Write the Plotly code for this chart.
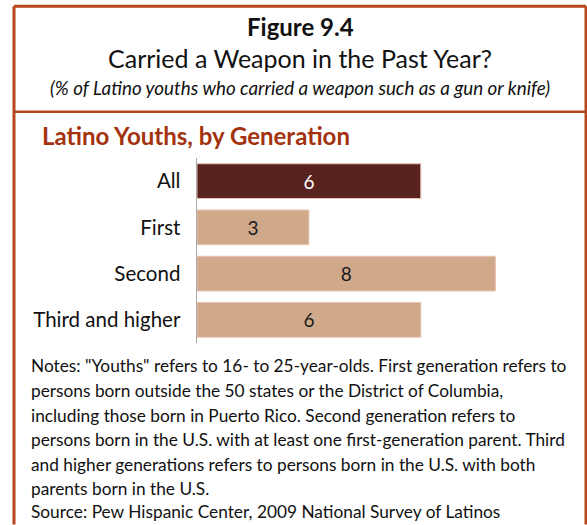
import plotly.graph_objects as go

categories = ["All", "First", "Second", "Third and higher"]
values = [6, 3, 8, 6]
bar_colors = ["#58221e", "#cfa98a", "#cfa98a", "#cfa98a"]
label_colors = ["white", "#1a1a1a", "#1a1a1a", "#1a1a1a"]

title_main = "Figure 9.4"
title_sub = "Carried a Weapon in the Past Year?"
title_note = "(% of Latino youths who carried a weapon such as a gun or knife)"
panel_title = "Latino Youths, by Generation"
notes_lines = [
    "Notes: \"Youths\" refers to 16- to 25-year-olds. First generation refers to",
    "persons born outside the 50 states or the District of Columbia,",
    "including those born in Puerto Rico. Second generation refers to",
    "persons born in the U.S. with at least one first-generation parent. Third",
    "and higher generations refers to persons born in the U.S. with both",
    "parents born in the U.S.",
    "Source: Pew Hispanic Center, 2009 National Survey of Latinos",
]

W, H = 587, 525
L, R, T, B = 197, 570, 157.5, 343.5
FONT = "Lato, 'Open Sans', sans-serif"

def px(x):
    return (x - L) / (R - L)

def py(y):
    return (B - y) / (B - T)

fig = go.Figure(go.Bar(
    y=categories, x=values, orientation="h",
    marker=dict(color=bar_colors, line=dict(color="#e9c3b3", width=1)),
    text=[str(v) for v in values], textposition="inside",
    insidetextanchor="middle",
    textfont=dict(family=FONT, size=19, color=label_colors),
    hoverinfo="skip",
))

border = "#b8461c"
shapes = [
    dict(type="line", xref="paper", yref="paper", x0=px(14), x1=px(14), y0=py(5), y1=py(526), line=dict(color=border, width=3)),
    dict(type="line", xref="paper", yref="paper", x0=px(14), x1=px(586), y0=py(5), y1=py(5), line=dict(color=border, width=3)),
    dict(type="line", xref="paper", yref="paper", x0=px(586), x1=px(586), y0=py(5), y1=py(526), line=dict(color=border, width=3)),
    dict(type="line", xref="paper", yref="paper", x0=px(14), x1=px(586), y0=py(111), y1=py(111), line=dict(color=border, width=2.5)),
]

annotations = [
    dict(text="<b>" + title_main + "</b>", x=px(300), y=py(25), xref="paper", yref="paper", showarrow=False,
         font=dict(family=FONT, size=24, color="#111"), xanchor="center", yanchor="middle"),
    dict(text=title_sub, x=px(300), y=py(57), xref="paper", yref="paper", showarrow=False,
         font=dict(family=FONT, size=25, color="#111"), xanchor="center", yanchor="middle"),
    dict(text="<i>" + title_note + "</i>", x=px(300), y=py(87), xref="paper", yref="paper", showarrow=False,
         font=dict(family=FONT, size=18.8, color="#111"), xanchor="center", yanchor="middle"),
    dict(text="<b>" + panel_title + "</b>", x=px(40), y=py(135), xref="paper", yref="paper", showarrow=False,
         font=dict(family=FONT, size=24, color="#a3330f"), xanchor="left", yanchor="middle"),
]
line_y = [366, 391, 416, 441, 466, 490, 513]
for txt, yy in zip(notes_lines, line_y):
    annotations.append(dict(text=txt, x=px(29), y=py(yy), xref="paper", yref="paper", showarrow=False,
                            align="left", font=dict(family=FONT, size=17.3, color="#111"),
                            xanchor="left", yanchor="middle"))

fig.update_layout(
    width=W, height=H,
    margin=dict(l=L, r=W - R, t=T, b=H - B, pad=0),
    paper_bgcolor="white", plot_bgcolor="white",
    showlegend=False, bargap=0.25,
    xaxis=dict(range=[0, 10], visible=False, fixedrange=True),
    yaxis=dict(categoryorder="array", categoryarray=categories, autorange="reversed",
               showline=True, linecolor="#a8a8a8", linewidth=1.5, ticks="", ticklen=0,
               tickfont=dict(family=FONT, size=20.5, color="#111"), ticklabelstandoff=11,
               showgrid=False, zeroline=False, fixedrange=True),
    shapes=shapes, annotations=annotations,
    font=dict(family=FONT),
)

fig.write_html("out.html", config={"displayModeBar": False, "staticPlot": True},
               post_script="document.body.style.margin='0';document.body.style.overflow='hidden';")
